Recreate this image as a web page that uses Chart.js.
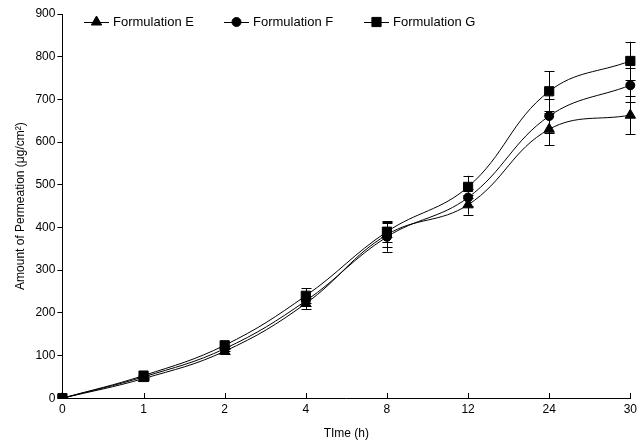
<!DOCTYPE html>
<html>
<head>
<meta charset="utf-8">
<script src="https://cdn.jsdelivr.net/npm/chart.js@4"></script>
<style>
  body { margin: 0; background: #fff; }
  #wrap { width: 641px; height: 443px; }
</style>
</head>
<body>
<div id="wrap"><canvas id="myChart"></canvas></div>
<script>
// data
const time_labels = ['0', '1', '2', '4', '8', '12', '24', '30'];
const series_names = ['Formulation E', 'Formulation F', 'Formulation G'];
const form_e = [0, 46, 110, 222, 383, 453, 630, 663];
const form_f = [0, 50, 116, 228, 378, 470, 661, 733];
const form_g = [0, 53, 124, 240, 390, 495, 719, 790];
const err_e = [0, 4, 6, 13, 28, 23, 38, 44];
const err_f = [0, 4, 6, 12, 35, 20, 39, 40];
const err_g = [0, 5, 7, 18, 25, 26, 47, 45];
const y_ticks = [0, 100, 200, 300, 400, 500, 600, 700, 800, 900];

const ctx = document.getElementById('myChart');
const font_name = "'Liberation Sans', Arial, sans-serif";

// error bars drawn with the chart's own scales
const errorBars = {
    id: 'errorBars',
    afterDatasetsDraw(chart) {
        const c = chart.ctx;
        const ys = chart.scales.y;
        c.save();
        c.strokeStyle = '#000';
        c.lineWidth = 1;
        chart.data.datasets.forEach(function(ds, i) {
            const meta = chart.getDatasetMeta(i);
            meta.data.forEach(function(pt, j) {
                const e = ds.errors[j];
                if (!e) return;
                const top = ys.getPixelForValue(ds.data[j] + e);
                const bot = ys.getPixelForValue(ds.data[j] - e);
                const x = Math.round(pt.x) + 0.5;
                c.beginPath();
                c.moveTo(x, top); c.lineTo(x, bot);
                c.moveTo(x - 5, Math.round(top) + 0.5); c.lineTo(x + 5, Math.round(top) + 0.5);
                c.moveTo(x - 5, Math.round(bot) + 0.5); c.lineTo(x + 5, Math.round(bot) + 0.5);
                c.stroke();
            });
        });
        c.restore();
    }
};

// inward ticks on the x axis
const innerTicks = {
    id: 'innerTicks',
    afterDraw(chart) {
        const c = chart.ctx;
        const xs = chart.scales.x;
        const yb = Math.round(chart.chartArea.bottom);
        c.save();
        c.strokeStyle = '#000';
        c.lineWidth = 1;
        for (var i = 0; i < time_labels.length; i++) {
            const x = Math.round(xs.getPixelForValue(i)) + 0.5;
            c.beginPath();
            c.moveTo(x, yb);
            c.lineTo(x, yb - 5);
            c.stroke();
        }
        c.restore();
    }
};

// legend inside the plot, line through marker
const innerLegend = {
    id: 'innerLegend',
    afterDraw(chart) {
        const c = chart.ctx;
        const xs = [84, 224, 364];
        const y = 22;
        c.save();
        chart.data.datasets.forEach(function(ds, i) {
            const x0 = xs[i];
            c.strokeStyle = '#000';
            c.lineWidth = 1;
            c.beginPath();
            c.moveTo(x0, y + 0.5); c.lineTo(x0 + 25, y + 0.5);
            c.stroke();
            Chart.helpers.drawPoint(c, {
                pointStyle: ds.pointStyle,
                radius: ds.pointRadius,
                borderWidth: 1,
                rotation: 0
            }, x0 + 12.5, y);
            c.fillStyle = '#000';
            c.font = '13px ' + font_name;
            c.textBaseline = 'middle';
            c.fillText(ds.label, x0 + 29, y);
        });
        c.restore();
    }
};

function makeSet(name, vals, errs, style, r) {
    return {
        label: name,
        data: vals,
        errors: errs,
        borderColor: '#000',
        backgroundColor: '#000',
        borderWidth: 1,
        pointStyle: style,
        pointRadius: r,
        pointBorderWidth: 1,
        pointBackgroundColor: '#000',
        tension: 0.4
    };
}

const myChart = new Chart(ctx, {
    type: 'line',
    data: {
        labels: time_labels,
        datasets: [
            makeSet(series_names[0], form_e, err_e, 'triangle', 6),
            makeSet(series_names[1], form_f, err_f, 'circle', 4.5),
            makeSet(series_names[2], form_g, err_g, 'rect', 6.5)
        ]
    },
    options: {
        responsive: true,
        maintainAspectRatio: false,
        animation: false,
        layout: { padding: { top: 14, right: 10, left: 13, bottom: 2 } },
        plugins: {
            legend: { display: false },
            tooltip: { enabled: false }
        },
        scales: {
            x: {
                offset: false,
                grid: { display: true, drawOnChartArea: false, drawTicks: false },
                border: { color: '#000', width: 1 },
                ticks: { color: '#000', padding: 4, font: { family: font_name, size: 12 } },
                title: { display: true, text: 'TIme (h)', color: '#000', padding: { top: 6, bottom: 0 },
                         font: { family: font_name, size: 12 } }
            },
            y: {
                min: 0,
                max: 900,
                afterBuildTicks: function(axis) {
                    axis.ticks = y_ticks.map(function(v) { return { value: v }; });
                },
                grid: { display: true, drawOnChartArea: false, tickLength: 5, color: '#000' },
                border: { color: '#000', width: 1 },
                ticks: { color: '#000', padding: 2, font: { family: font_name, size: 12 } },
                title: { display: true, text: 'Amount of Permeation (\u03bcg/cm\u00b2)', color: '#000',
                         padding: { top: 0, bottom: 6 }, font: { family: font_name, size: 12 } }
            }
        }
    },
    plugins: [errorBars, innerTicks, innerLegend]
});
</script>
</body>
</html>
